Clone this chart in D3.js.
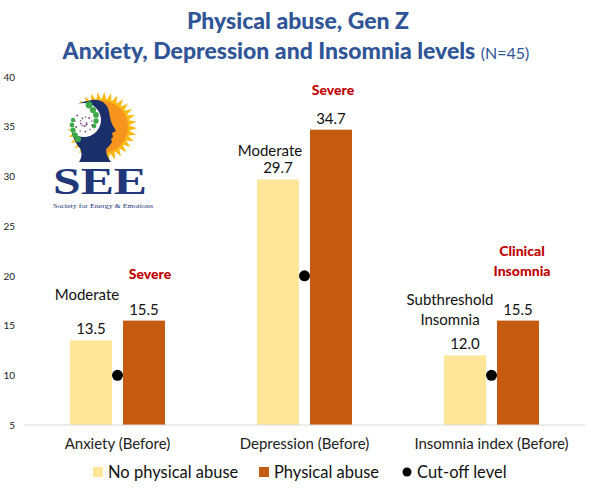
<!DOCTYPE html>
<html>
<head>
<meta charset="utf-8">
<script src="https://cdn.jsdelivr.net/npm/d3@7"></script>
<style>
  body { margin: 0; background: #fff; }
  svg { display: block; font-family: Lato, "Open Sans", sans-serif; }
</style>
</head>
<body>
<svg width="591" height="491"></svg>
<script>
const categories = ["Anxiety (Before)", "Depression (Before)", "Insomnia index (Before)"];
const seriesNames = ["No physical abuse", "Physical abuse"];
const noAbuse = [13.5, 29.7, 12.0];
const abuse = [15.5, 34.7, 15.5];
const cutOff = [10, 20, 10];
const yTicks = [5, 10, 15, 20, 25, 30, 35, 40];

// severity notes: category index, series index, text lines, highlighted?
const notes = [
    {cat: 0, s: 0, lines: ["Moderate"], red: false},
    {cat: 0, s: 1, lines: ["Severe"], red: true},
    {cat: 1, s: 0, lines: ["Moderate"], red: false},
    {cat: 1, s: 1, lines: ["Severe"], red: true},
    {cat: 2, s: 0, lines: ["Subthreshold", "Insomnia"], red: false},
    {cat: 2, s: 1, lines: ["Clinical", "Insomnia"], red: true}
];
// hand placement of the notes (dx from bar centre, gap above bar top to last line)
const noteLayout = [[-4, 40], [6, 42], [-8, 23], [2, 35], [-15, 30], [4, 45]];

const colors = {"No physical abuse": "#FFE699", "Physical abuse": "#C55A11"};

const svg = d3.select("svg");
const area = {left: 24, right: 585, top: 77, bottom: 425};

const scX = d3.scaleBand().domain(categories).range([area.left, area.right]);
const groupW = 95;
const scS = d3.scaleBand().domain(seriesNames).range([0, groupW]).paddingInner(0.208);
const scY = d3.scaleLinear().domain([5, 40]).range([area.bottom, area.top]);

const groupX = c => scX(c) + (scX.bandwidth() - groupW) / 2;

// title
svg.append("text").attr("text-anchor", "middle").attr("x", 298).attr("y", 29)
   .style("fill", "#2F5597").style("font-weight", "900").style("font-size", "23px")
   .text("Physical abuse, Gen Z");
const t2 = svg.append("text").attr("text-anchor", "middle").attr("x", 296).attr("y", 59)
    .style("fill", "#2F5597");
t2.append("tspan").style("font-size", "23px").style("font-weight", "900")
    .text("Anxiety, Depression and Insomnia levels ");
t2.append("tspan").style("font-size", "16px").text("(N=45)");

// y axis labels
const axY = d3.axisLeft(scY).tickValues(yTicks).tickSize(0).tickPadding(0);
svg.append("g").attr("transform", "translate(15,0)").call(axY)
   .call(g => g.select(".domain").remove())
   .selectAll("text").style("font-size", "10px").style("font-family", "Lato, sans-serif")
   .attr("fill", "#222");

// bars
const rows = categories.map((c, i) => ({cat: c, vals: [noAbuse[i], abuse[i]], cut: cutOff[i]}));

rows.forEach((r, i) => {
    seriesNames.forEach((s, j) => {
        const x = groupX(r.cat) + scS(s);
        svg.append("rect")
           .attr("x", x)
           .attr("y", scY(r.vals[j]))
           .attr("width", scS.bandwidth())
           .attr("height", scY(5) - scY(r.vals[j]))
           .attr("fill", colors[s]);
        svg.append("text")
           .attr("x", x + scS.bandwidth() / 2)
           .attr("y", scY(r.vals[j]) - 6)
           .attr("text-anchor", "middle")
           .style("font-size", "15px")
           .attr("fill", "#111")
           .text(r.vals[j].toFixed(1));
    });
    svg.append("circle")
       .attr("cx", scX(r.cat) + scX.bandwidth() / 2)
       .attr("cy", scY(r.cut))
       .attr("r", 5.5)
       .attr("fill", "#000");
});

// baseline
svg.append("line")
   .attr("x1", area.left).attr("x2", area.right)
   .attr("y1", scY(5)).attr("y2", scY(5))
   .attr("stroke", "#D9D9D9").attr("stroke-width", 1);

// category labels
const axX = d3.axisBottom(scX).tickSize(0).tickPadding(0);
svg.append("g").attr("transform", `translate(0,${scY(5) + 13})`).call(axX)
   .call(g => g.select(".domain").remove())
   .selectAll("text").style("font-size", "15px").style("font-family", "Lato, sans-serif")
   .attr("fill", "#222");

// notes
notes.forEach((n, k) => {
    const [dx, gap] = noteLayout[k];
    const cat = categories[n.cat], s = seriesNames[n.s];
    const val = n.s === 0 ? noAbuse[n.cat] : abuse[n.cat];
    const cx = groupX(cat) + scS(s) + scS.bandwidth() / 2 + dx;
    const yLast = scY(val) - gap;
    const txt = svg.append("text").attr("text-anchor", "middle")
        .style("font-size", n.red ? "14px" : "15px")
        .style("font-weight", n.red ? "900" : "normal")
        .attr("fill", n.red ? "#C00000" : "#111");
    n.lines.forEach((l, li) => {
        txt.append("tspan").attr("x", cx)
           .attr("y", yLast - (n.lines.length - 1 - li) * 20)
           .text(l);
    });
});

// legend
const legend = svg.append("g").attr("transform", "translate(0,472)");
const legItems = [
    {label: "No physical abuse", x: 93, kind: "rect", color: colors["No physical abuse"]},
    {label: "Physical abuse", x: 259, kind: "rect", color: colors["Physical abuse"]},
    {label: "Cut-off level", x: 402, kind: "dot", color: "#000"}
];
legItems.forEach(it => {
    if (it.kind === "rect") {
        legend.append("rect").attr("x", it.x).attr("y", -5).attr("width", 10).attr("height", 10)
              .attr("fill", it.color);
    } else {
        legend.append("circle").attr("cx", it.x + 5).attr("cy", 0).attr("r", 4.5).attr("fill", it.color);
    }
    legend.append("text").attr("x", it.x + 15).attr("y", 6)
          .style("font-size", "16.5px").attr("fill", "#111").text(it.label);
});

// logo (SEE)
const logo = svg.append("g");
const sunC = [102, 127];
d3.range(-150, 190, 11).forEach(a => {
    const r = a * Math.PI / 180;
    const p = (rr, da) => [sunC[0] + rr * Math.sin(r + da), sunC[1] - rr * Math.cos(r + da)];
    logo.append("path")
        .attr("d", d3.line()([p(27, -0.1), p(35, 0), p(27, 0.1)]))
        .attr("fill", "#FDB913");
});
logo.append("circle").attr("cx", sunC[0]).attr("cy", sunC[1]).attr("r", 28).attr("fill", "#FDB913");
logo.append("circle").attr("cx", sunC[0]).attr("cy", sunC[1]).attr("r", 26).attr("fill", "#F7941D");
logo.append("path")
    .attr("d", "M88,101 C96,98 104,100 108,108 C110,114 110,120 112,124 L116,131 L112,133 L113,137 L111,139 L112,142 C110,146 107,147 106,150 C106,154 108,158 111,162 L79,162 C83,156 82,150 78,146 C74,140 70,130 70,120 C70,108 78,102 88,101 Z")
    .attr("fill", "#1B2F6B");
logo.append("circle").attr("cx", 84).attr("cy", 120).attr("r", 17).attr("fill", "#fff");
const greenDots = [[89, 105, 3.4], [93, 110, 3.1], [96, 115, 2.9], [96, 121, 2.7], [94, 126, 2.4],
                   [73, 120, 2.2], [72, 125, 2.4], [73, 130, 2.6], [75, 135, 2.8], [78, 139, 3.1]];
greenDots.forEach(d => logo.append("circle").attr("cx", d[0]).attr("cy", d[1]).attr("r", d[2]).attr("fill", "#3DAA49"));
d3.range(0, 18).forEach(i => {
    const a = i * 0.6, rr = 1.5 + i * 0.55;
    logo.append("circle")
        .attr("cx", 85 + rr * Math.cos(a)).attr("cy", 123 + rr * Math.sin(a))
        .attr("r", 0.9).attr("fill", i % 2 ? "#7B3F7F" : "#9C7BA0");
});
logo.append("text").attr("x", 100).attr("y", 194).attr("text-anchor", "middle")
    .style("font-family", "'Liberation Serif', 'DejaVu Serif', serif")
    .style("font-weight", "bold").style("font-size", "37px").attr("fill", "#22367A")
    .attr("textLength", 94).attr("lengthAdjust", "spacingAndGlyphs")
    .text("SEE");
logo.append("text").attr("x", 103).attr("y", 208).attr("text-anchor", "middle")
    .style("font-family", "'Liberation Serif', 'DejaVu Serif', serif")
    .style("font-size", "7px").attr("fill", "#22367A")
    .attr("textLength", 100).attr("lengthAdjust", "spacingAndGlyphs")
    .text("Society for Energy & Emotions");
</script>
</body>
</html>
